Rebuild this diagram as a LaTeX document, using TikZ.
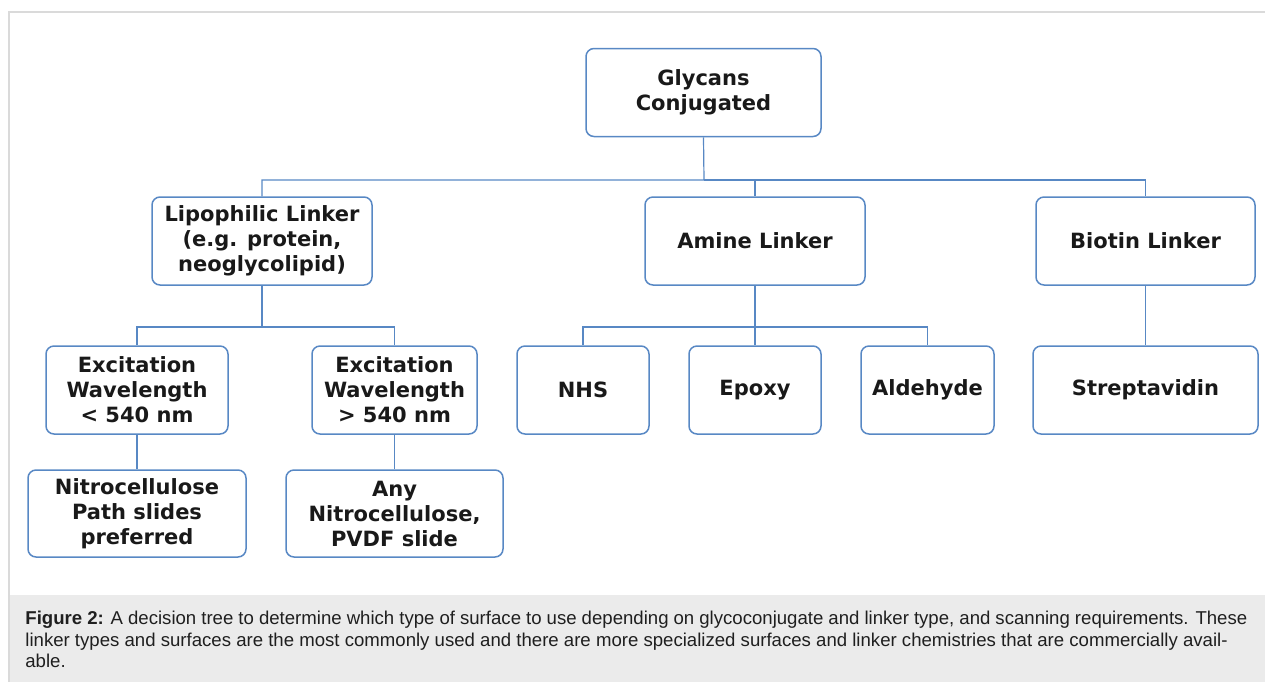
\documentclass[tikz,border=0pt]{standalone}
\usepackage{fontspec}
\setmainfont{DejaVu Sans}
\newfontfamily\capfont{Liberation Sans}
\usepackage{tikz}
\definecolor{boxblue}{RGB}{88,136,196}
\definecolor{capgray}{RGB}{235,235,235}
\definecolor{framegray}{RGB}{218,218,218}

\begin{document}
\begin{tikzpicture}[x=0.5pt,y=-0.5pt,
	box/.style={draw=boxblue,line width=0.75pt,rounded corners=4pt,minimum height=44pt,inner sep=1pt,align=center,text=black!90,font=\fontsize{10.5}{12.5}\selectfont\bfseries},
	link/.style={draw=boxblue,line width=0.6pt}]
\useasboundingbox (0,0) rectangle (1265,682);
\fill[capgray] (9,595) rectangle (1265,682);
\draw[framegray,line width=0.8pt] (1265,12) -- (9,12) -- (9,682);

\node [box,minimum width=117.5pt] (g) at (703.5,92.5) {Glycans\\Conjugated};

\node [box,minimum width=110pt] (lip) at (262,241) {Lipophilic Linker\\(e.g. protein,\\neoglycolipid)};
\node [box,minimum width=110pt] (am) at (755,241) {Amine Linker};
\node [box,minimum width=109.5pt] (bio) at (1145.5,241) {Biotin Linker};

\node [box,minimum width=91pt] (exl) at (137,390) {Excitation\\Wavelength\\< 540 nm};
\node [box,minimum width=82.5pt] (exg) at (394.5,390) {Excitation\\Wavelength\\> 540 nm};
\node [box,minimum width=66pt] (nhs) at (583,390) {NHS};
\node [box,minimum width=66pt] (ep) at (755,390) {Epoxy};
\node [box,minimum width=66.5pt] (ald) at (927.5,390) {Aldehyde};
\node [box,minimum width=112.5pt] (strep) at (1145.5,390) {Streptavidin};

\node [box,minimum width=109pt,minimum height=43.5pt] (nit) at (137,513.5) {Nitrocellulose\\Path slides\\preferred};
\node [box,minimum width=108.5pt,minimum height=43.5pt] (any) at (394.5,513.5) {Any\\Nitrocellulose,\\PVDF slide};

\coordinate (j1) at (704,180);
\coordinate (j2) at (262,327);
\coordinate (j3) at (755,327);

\draw[link] (g.south) -- (j1) -| (lip.north);
\draw[link] (j1) -| (am.north);
\draw[link] (j1) -| (bio.north);
\draw[link] (lip.south) -- (j2) -| (exl.north);
\draw[link] (j2) -| (exg.north);
\draw[link] (am.south) -- (j3) -| (nhs.north);
\draw[link] (j3) -| (ald.north);
\draw[link] (j3) -- (ep.north);
\draw[link] (bio.south) -- (strep.north);
\draw[link] (exl.south) -- (nit.north);
\draw[link] (exg.south) -- (any.north);

\node [anchor=north west,inner sep=0pt,text width=611pt,align=justify,text=black!88,font=\capfont\fontsize{9.3}{10.75}\selectfont] (cap) at (25,611)
	{\textbf{Figure 2:} A decision tree to determine which type of surface to use depending on glycoconjugate and linker type, and scanning requirements. These\linebreak linker types and surfaces are the most commonly used and there are more specialized surfaces and linker chemistries that are commercially avail-\\able.};
\end{tikzpicture}
\end{document}
